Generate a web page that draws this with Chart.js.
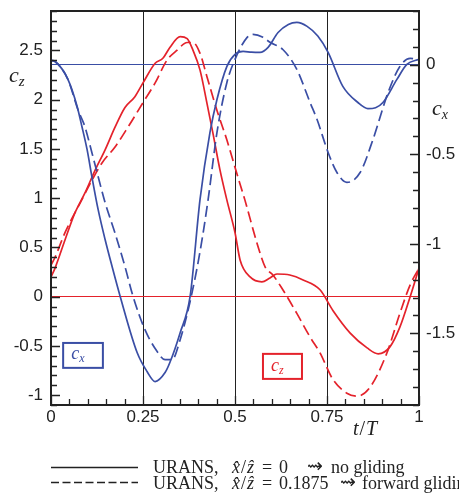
<!DOCTYPE html>
<html>
<head>
<meta charset="utf-8">
<script src="https://cdn.jsdelivr.net/npm/chart.js@4.4.1/dist/chart.umd.min.js"></script>
<style>
  html, body { margin: 0; padding: 0; background: #fff; overflow: hidden; }
</style>
</head>
<body>
<canvas id="chart" width="459" height="502"></canvas>
<script>
// cx, no gliding (right axis)
const cxSolidT = [0, 0.011, 0.046, 0.071, 0.084, 0.098, 0.111, 0.128, 0.147, 0.166, 0.188, 0.234, 0.261, 0.283,
    0.31, 0.323, 0.351, 0.378, 0.405, 0.432, 0.451, 0.478, 0.5, 0.522, 0.545, 0.568, 0.59, 0.617, 0.645,
    0.668, 0.696, 0.725, 0.753, 0.793, 0.834, 0.861, 0.882, 0.902, 0.94, 0.967, 1];
const cxSolid = [0.024, 0.018, -0.082, -0.233, -0.345, -0.473, -0.624, -0.808, -0.976, -1.127, -1.294, -1.607, -1.713, -1.769,
    -1.719, -1.663, -1.496, -1.294, -0.752, -0.378, -0.194, -0.009, 0.058, 0.074, 0.07, 0.069, 0.097, 0.18, 0.225,
    0.236, 0.214, 0.16, 0.069, -0.121, -0.211, -0.245, -0.24, -0.211, -0.082, 0.002, 0.03];

// cx, forward gliding
const cxDashT = [0, 0.011, 0.046, 0.073, 0.092, 0.111, 0.125, 0.147, 0.174, 0.201, 0.223, 0.255, 0.288, 0.31,
    0.329, 0.351, 0.378, 0.405, 0.427, 0.451, 0.478, 0.5, 0.533, 0.549, 0.576, 0.595, 0.63, 0.668, 0.704,
    0.723, 0.753, 0.777, 0.804, 0.84, 0.875, 0.916, 0.948, 0.976, 1];
const cxDash = [0.024, 0.018, -0.082, -0.25, -0.345, -0.49, -0.6, -0.77, -0.94, -1.127, -1.294, -1.478, -1.6, -1.647,
    -1.647, -1.535, -1.322, -1.043, -0.752, -0.378, -0.099, 0.03, 0.153, 0.169, 0.153, 0.125, 0.085, -0.026, -0.211,
    -0.306, -0.49, -0.602, -0.657, -0.602, -0.417, -0.155, -0.01, 0.035, 0.03];

// cz, no gliding (left axis)
const czSolidT = [0, 0.011, 0.038, 0.065, 0.092, 0.12, 0.147, 0.174, 0.201, 0.228, 0.25, 0.283, 0.304, 0.323,
    0.351, 0.37, 0.386, 0.405, 0.424, 0.44, 0.459, 0.478, 0.5, 0.514, 0.541, 0.573, 0.595, 0.614, 0.649,
    0.685, 0.731, 0.766, 0.813, 0.859, 0.889, 0.921, 0.948, 0.976, 1];
const czSolid = [0.2, 0.29, 0.575, 0.85, 1.05, 1.285, 1.49, 1.72, 1.92, 2.03, 2.17, 2.37, 2.42, 2.53,
    2.64, 2.62, 2.5, 2.3, 1.96, 1.66, 1.29, 0.98, 0.65, 0.37, 0.2, 0.15, 0.19, 0.23, 0.22,
    0.17, 0.07, -0.14, -0.37, -0.52, -0.58, -0.51, -0.31, 0, 0.29];

// cz, forward gliding
const czDashT = [0, 0.011, 0.038, 0.079, 0.111, 0.139, 0.174, 0.209, 0.25, 0.283, 0.315, 0.342, 0.37, 0.386,
    0.405, 0.424, 0.451, 0.478, 0.505, 0.527, 0.56, 0.582, 0.603, 0.63, 0.668, 0.704, 0.731, 0.766, 0.804,
    0.832, 0.867, 0.913, 0.948, 0.976, 1];
const czDash = [0.32, 0.4, 0.65, 0.95, 1.18, 1.36, 1.52, 1.72, 1.97, 2.17, 2.4, 2.5, 2.58, 2.58,
    2.47, 2.23, 1.89, 1.59, 1.25, 0.98, 0.54, 0.3, 0.22, 0.07, -0.17, -0.41, -0.57, -0.84, -0.98,
    -1.01, -0.92, -0.57, -0.17, 0.12, 0.29];

const xTicks = [0, 0.25, 0.5, 0.75, 1];
const czTicks = [-1, -0.5, 0, 0.5, 1, 1.5, 2, 2.5];
const cxTicks = [-1.5, -1, -0.5, 0];

const BLUE = '#3a4ea5';
const RED = '#e4222b';
const INK = '#222222';
const SANS = '"Liberation Sans", Arial, sans-serif';
const SERIF = '"Liberation Serif", "DejaVu Serif", serif';
const NONE = 'rgba(0,0,0,0)';

function pairs(ts, vs) {
    return ts.map((t, i) => ({ x: t, y: vs[i] }));
}

// draws text pieces one after another; a piece with its own x starts there
function drawRich(ctx, x, y, parts) {
    for (const p of parts) {
        if (p.x !== undefined) {
            x = p.x;
        }
        ctx.font = p.font;
        ctx.fillText(p.text, x, y + (p.dy || 0));
        x += ctx.measureText(p.text).width + (p.gap || 0);
    }
    return x;
}

function legendRow(ctx, y, ratio, label, arrowX, labelX) {
    const rm = '18px ' + SERIF;
    const it = 'italic 18px ' + SERIF;
    drawRich(ctx, 153, y, [
        { text: 'URANS,', font: rm },
        { text: 'x\u0302', font: it, x: 232, gap: 1 },
        { text: '/', font: rm, gap: 1 },
        { text: 'z\u0302', font: it },
        { text: '=', font: rm, x: 262 },
        { text: ratio, font: rm, x: 279 },
        { text: '\u21DD', font: '19px "DejaVu Sans"', x: arrowX, dy: -1 },
        { text: label, font: rm, x: labelX }
    ]);
}

const framePlugin = {
    id: 'frame',
    afterDatasetsDraw(chart) {
        const { ctx, chartArea: a } = chart;
        const sx = chart.scales.x, sz = chart.scales.yz, sc = chart.scales.yx;
        ctx.save();
        ctx.strokeStyle = INK;
        ctx.lineWidth = 1.3;
        ctx.beginPath();
        // inward ticks, minor every 0.05 / 0.1
        for (let i = 0; i <= 20; i++) {
            const px = Math.round(sx.getPixelForValue(i * 0.05)) + 0.5;
            ctx.moveTo(px, a.bottom);
            ctx.lineTo(px, a.bottom - (i % 5 === 0 ? 9 : 6));
        }
        for (let i = -11; i <= 29; i++) {
            const py = Math.round(sz.getPixelForValue(i / 10)) + 0.5;
            ctx.moveTo(a.left, py);
            ctx.lineTo(a.left + (i % 5 === 0 ? 9 : 6), py);
        }
        for (let i = -19; i <= 3; i++) {
            const py = Math.round(sc.getPixelForValue(i / 10)) + 0.5;
            ctx.moveTo(a.right, py);
            ctx.lineTo(a.right - (i % 5 === 0 ? 9 : 6), py);
        }
        ctx.stroke();

        ctx.lineWidth = 2;
        ctx.strokeRect(a.left, a.top, a.right - a.left, a.bottom - a.top);

        // boxed curve labels
        ctx.textBaseline = 'alphabetic';
        ctx.textAlign = 'left';
        let l = sx.getPixelForValue(0.033), r = sx.getPixelForValue(0.141);
        let t = sz.getPixelForValue(-0.47), b = sz.getPixelForValue(-0.723);
        ctx.strokeStyle = BLUE;
        ctx.fillStyle = BLUE;
        ctx.strokeRect(l, t, r - l, b - t);
        drawRich(ctx, l + 8, t + 16, [
            { text: 'c', font: 'italic 18px ' + SERIF },
            { text: 'x', font: 'italic 12px ' + SERIF, dy: 3 }
        ]);

        l = sx.getPixelForValue(0.576); r = sx.getPixelForValue(0.682);
        t = sz.getPixelForValue(-0.581); b = sz.getPixelForValue(-0.835);
        ctx.strokeStyle = RED;
        ctx.fillStyle = RED;
        ctx.strokeRect(l, t, r - l, b - t);
        drawRich(ctx, l + 8, t + 17, [
            { text: 'c', font: 'italic 18px ' + SERIF },
            { text: 'z', font: 'italic 12px ' + SERIF, dy: 3 }
        ]);
        ctx.restore();
    },
    afterDraw(chart) {
        const { ctx, chartArea: a } = chart;
        ctx.save();
        ctx.fillStyle = INK;
        ctx.textBaseline = 'alphabetic';
        ctx.textAlign = 'left';

        // axis titles
        drawRich(ctx, 9, 82, [
            { text: 'c', font: 'italic 22px ' + SERIF },
            { text: 'z', font: 'italic 15px ' + SERIF, dy: 4 }
        ]);
        drawRich(ctx, a.right + 13, 115, [
            { text: 'c', font: 'italic 22px ' + SERIF },
            { text: 'x', font: 'italic 14px ' + SERIF, dy: 4 }
        ]);
        drawRich(ctx, 353, 435, [
            { text: 't', font: 'italic 20px ' + SERIF, gap: 1 },
            { text: '/', font: '20px ' + SERIF, gap: 1 },
            { text: 'T', font: 'italic 20px ' + SERIF }
        ]);

        // line-style legend
        ctx.strokeStyle = INK;
        ctx.lineWidth = 1.5;
        ctx.beginPath();
        ctx.moveTo(a.left, 467.5);
        ctx.lineTo(138, 467.5);
        ctx.stroke();
        ctx.setLineDash([8, 3.5]);
        ctx.beginPath();
        ctx.moveTo(a.left, 482.5);
        ctx.lineTo(138, 482.5);
        ctx.stroke();
        ctx.setLineDash([]);

        legendRow(ctx, 473, '0', 'no gliding', 307, 331);
        legendRow(ctx, 489, '0.1875', 'forward gliding', 340, 362);
        ctx.restore();
    }
};

function lineSet(ts, vs, color, dashed, axis) {
    return {
        data: pairs(ts, vs),
        yAxisID: axis,
        borderColor: color,
        borderWidth: 1.7,
        borderDash: dashed ? [11, 5] : [],
        pointRadius: 0,
        fill: false,
        cubicInterpolationMode: 'monotone'
    };
}

function fixedTicks(values) {
    return scale => {
        scale.ticks = values.map(v => ({ value: v }));
    };
}

function fitY(width) {
    return scale => {
        scale.width = width;
        scale.paddingTop = 0;
        scale.paddingBottom = 0;
    };
}

new Chart(document.getElementById('chart'), {
    type: 'line',
    data: {
        datasets: [
            lineSet(cxSolidT, cxSolid, BLUE, false, 'yx'),
            lineSet(cxDashT, cxDash, BLUE, true, 'yx'),
            lineSet(czSolidT, czSolid, RED, false, 'yz'),
            lineSet(czDashT, czDash, RED, true, 'yz')
        ]
    },
    options: {
        responsive: false,
        animation: false,
        devicePixelRatio: 1,
        layout: { padding: { top: 11, left: 0, right: 0, bottom: 0 } },
        plugins: {
            legend: { display: false },
            tooltip: { enabled: false }
        },
        scales: {
            x: {
                type: 'linear',
                min: 0,
                max: 1,
                afterBuildTicks: fixedTicks(xTicks),
                afterFit: scale => {
                    scale.height = 97;
                    scale.paddingLeft = 0;
                    scale.paddingRight = 0;
                },
                border: { display: false },
                grid: {
                    drawTicks: false,
                    lineWidth: 1,
                    color: c => (c.tick && c.tick.value > 0 && c.tick.value < 1) ? INK : NONE
                },
                ticks: {
                    padding: 2,
                    maxRotation: 0,
                    autoSkip: false,
                    color: INK,
                    font: { family: SANS, size: 17 },
                    callback: v => String(v)
                }
            },
            yz: {
                type: 'linear',
                position: 'left',
                min: -1.1,
                max: 2.9,
                afterBuildTicks: fixedTicks(czTicks),
                afterFit: fitY(51),
                border: { display: false },
                grid: {
                    drawTicks: false,
                    lineWidth: 1,
                    color: c => (c.tick && c.tick.value === 0) ? RED : NONE
                },
                ticks: {
                    padding: 8,
                    autoSkip: false,
                    color: INK,
                    font: { family: SANS, size: 17 },
                    callback: v => String(v)
                }
            },
            yx: {
                type: 'linear',
                position: 'right',
                min: -1.9,
                max: 0.3,
                afterBuildTicks: fixedTicks(cxTicks),
                afterFit: fitY(40),
                border: { display: false },
                grid: {
                    drawTicks: false,
                    lineWidth: 1,
                    color: c => (c.tick && c.tick.value === 0) ? BLUE : NONE
                },
                ticks: {
                    padding: 7,
                    autoSkip: false,
                    color: INK,
                    font: { family: SANS, size: 17 },
                    callback: v => String(v)
                }
            }
        }
    },
    plugins: [framePlugin]
});
</script>
</body>
</html>
